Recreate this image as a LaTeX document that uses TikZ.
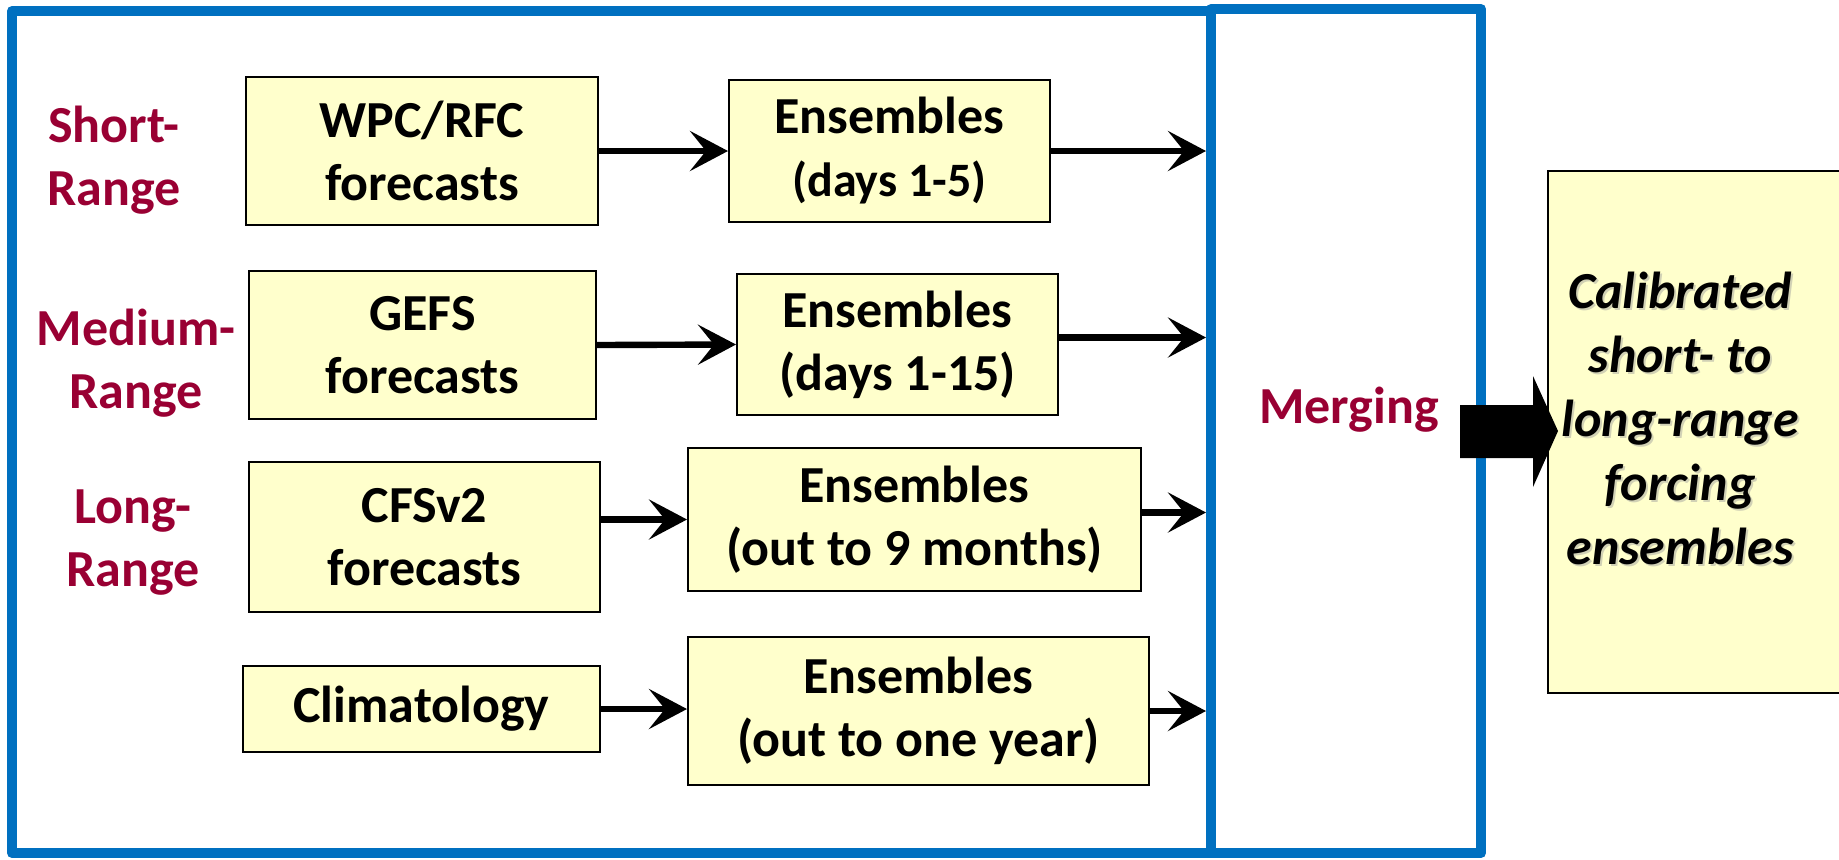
\documentclass[tikz,border=0pt]{standalone}
\usepackage{fontspec}
\setmainfont{Carlito}
\usetikzlibrary{arrows.meta}
\definecolor{panelblue}{RGB}{0,112,192}
\definecolor{boxfill}{RGB}{255,255,204}
\definecolor{crimson}{RGB}{153,0,51}
\tikzset{
  ybox/.style={draw=black, line width=1pt, fill=boxfill, inner sep=0pt, align=center,
    font=\fontsize{26}{31.5}\selectfont\bfseries},
  rlabel/.style={text=crimson, align=center, inner sep=0pt,
    font=\fontsize{26}{31.5}\selectfont\bfseries},
  conn/.style={line width=3.2pt, -{Stealth[length=19pt,width=20pt,inset=8pt]}},
  panel/.style={draw=panelblue, line width=5pt, inner sep=0pt, line join=round},
  outtxt/.style={align=center, inner sep=0pt,
    font=\fontsize{26}{32}\selectfont\bfseries\itshape}
}
\begin{document}
\begin{tikzpicture}[x=0.5pt,y=-0.5pt]
\useasboundingbox (0,0) rectangle (1839,859);
% panels
\node[panel, minimum width=599.5pt, minimum height=421pt] (panel) at (611.5,432) {};
\node[panel, minimum width=135pt, minimum height=422pt] (merge) at (1346,431) {};
% boxes
\node[ybox, minimum width=176pt, minimum height=74pt] (box1) at (422,151) {WPC/RFC\\forecasts};
\node[ybox, minimum width=160.5pt, minimum height=71pt] (ens1) at (889.5,151) {Ensembles\\{\fontsize{24}{31.5}\selectfont(days 1-5)}};
\node[ybox, minimum width=173.5pt, minimum height=74pt] (box2) at (422.5,345) {GEFS\\forecasts};
\node[ybox, minimum width=160.5pt, minimum height=70.5pt] (ens2) at (897.5,344.5) {Ensembles\\(days 1-15)};
\node[ybox, minimum width=175.5pt, minimum height=75pt] (box3) at (424.5,537) {CFSv2\\forecasts};
\node[ybox, minimum width=226.5pt, minimum height=71.5pt] (ens3) at (914.5,519.5) {Ensembles\\(out to 9 months)};
\node[ybox, minimum width=178.5pt, minimum height=43pt] (box4) at (421.5,709) {Climatology};
\node[ybox, minimum width=230.5pt, minimum height=74pt] (ens4) at (918.5,711) {Ensembles\\(out to one year)};
% range labels
\node[rlabel] (short) at (114,160) {Short-\\Range};
\node[rlabel] (medium) at (136,363) {Medium-\\Range};
\node[rlabel] (long) at (133,543) {Long-\\Range};
\node[rlabel] (merging) at (1349,410) {Merging};
% output box
\node[draw=black, line width=1pt, fill=boxfill, minimum width=147pt, minimum height=261pt, inner sep=0pt] (outbox) at (1695,432) {};
\node[outtxt, text=black!40, opacity=0.45] (outshadow) at (1682,420) {Calibrated\\short- to\\long-range\\forcing\\ensembles};
\node[outtxt] (outtext) at (1680,418) {Calibrated\\short- to\\long-range\\forcing\\ensembles};
% connectors
\draw[conn] (box1.east) -- (ens1.west);
\draw[conn] (ens1.east) -- (merge.west |- ens1.east);
\draw[conn] (box2.east) -- (ens2.west);
\coordinate (o2) at ([yshift=3.5pt]ens2.east);
\draw[conn] (o2) -- (merge.west |- o2);
\draw[conn] (box3.east |- ens3.west) -- (ens3.west);
\coordinate (o3) at ([yshift=3.5pt]ens3.east);
\draw[conn] (o3) -- (merge.west |- o3);
\draw[conn] (box4.east) -- (box4.east -| ens4.west);
\draw[conn] (ens4.east) -- (merge.west |- ens4.east);
% big arrow
\fill[black] (1460,405) -- (1533,405) -- (1533,376) -- (1558,431) -- (1533,487) -- (1533,458) -- (1460,458) -- cycle;
\end{tikzpicture}
\end{document}
